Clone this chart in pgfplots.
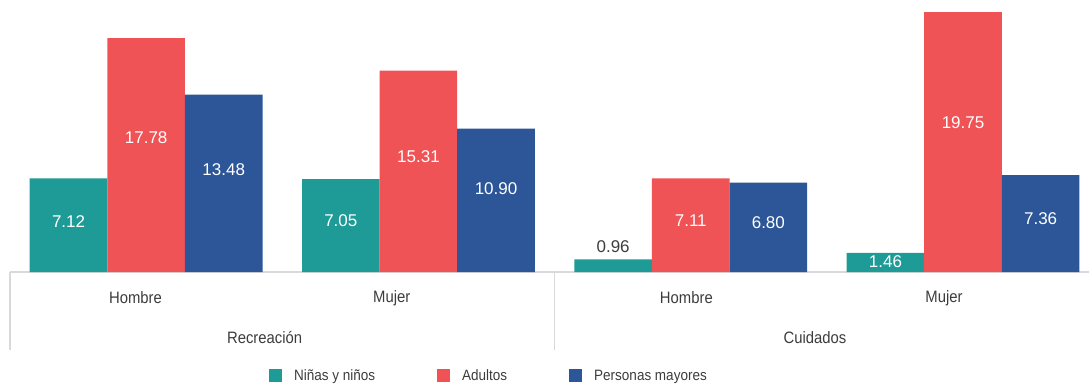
\documentclass[border=0pt]{standalone}
\usepackage{fontspec}
\setmainfont{Liberation Sans}[FakeStretch=0.9]
\newfontfamily\valfamily{Liberation Sans}
\usepackage{pgfplots}
\usepackage{pgfplotstable}
\pgfplotsset{compat=1.18}
\definecolor{cteal}{RGB}{31,155,151}
\definecolor{cred}{RGB}{240,83,85}
\definecolor{cblue}{RGB}{44,86,151}
\definecolor{cgrid}{RGB}{217,217,217}
\definecolor{ctext}{RGB}{60,60,60}

\pgfplotstableread{
x ninos adultos mayores
0 7.12 17.78 13.48
1 7.05 15.31 10.90
2 0.96 7.11 6.80
3 1.46 19.75 7.36
}\datatable

\pgfplotstableread{
lx ly lab
-0.285 3.80 7.12
0 10.18 17.78
0.285 7.75 13.48
0.715 3.88 7.05
1 8.74 15.31
1.285 6.31 10.90
2 3.88 7.11
2.285 3.72 6.80
2.715 0.76 1.46
3 11.32 19.75
3.285 4.03 7.36
}\labwhite

\pgfplotstableread{
lx ly lab
1.715 1.90 0.96
}\labdark

\newcommand{\tfont}{\fontsize{16.5bp}{19bp}\selectfont}
\newcommand{\lfont}{\fontsize{15bp}{18bp}\selectfont}
\newcommand{\vfont}{\valfamily\fontsize{17bp}{20bp}\selectfont}

\begin{document}
\begin{tikzpicture}
\begin{axis}[
  at={(0,0)}, anchor=south west,
  scale only axis, width=1079bp, height=272bp,
  xmin=-0.5, xmax=3.4625, ymin=0, ymax=20.67,
  axis x line*=bottom, axis y line=none,
  x axis line style={cgrid, line width=2bp},
  ytick=\empty,
  xtick={-0.039,0.902,1.984,2.930},
  xticklabels={Hombre,Mujer,Hombre,Mujer},
  major tick length=0,
  xticklabel style={anchor=center, yshift=-26bp, font=\tfont, text=ctext},
  clip=false,
  legend columns=3,
  legend style={draw=none, fill=none, at={(0.443,-0.382)}, anchor=center,
    font=\lfont, text=ctext, nodes={inner xsep=0pt},
    /tikz/every even column/.append style={column sep=62bp}},
  legend image code/.code={\fill[#1] (0bp,-6.5bp) rectangle (13bp,6.5bp);
    \path[draw=none, fill=none] (0bp,0bp) rectangle (25bp,0.1bp);},
]
\addplot[ybar, bar width=0.285, bar shift=-0.285, fill=cteal, draw=none] table[x=x, y=ninos] {\datatable};
\addlegendentry{Niñas y niños}
\addplot[ybar, bar width=0.285, bar shift=0, fill=cred, draw=none] table[x=x, y=adultos] {\datatable};
\addlegendentry{Adultos}
\addplot[ybar, bar width=0.285, bar shift=0.285, fill=cblue, draw=none] table[x=x, y=mayores] {\datatable};
\addlegendentry{Personas mayores}

\addplot[draw=none, mark=none, forget plot, nodes near coords, point meta=explicit symbolic,
  nodes near coords style={anchor=center, text=white, font=\vfont}]
  table[x=lx, y=ly, meta=lab] {\labwhite};
\addplot[draw=none, mark=none, forget plot, nodes near coords, point meta=explicit symbolic,
  nodes near coords style={anchor=center, text=ctext, font=\vfont}]
  table[x=lx, y=ly, meta=lab] {\labdark};

\draw[cgrid, line width=1.5bp] (axis cs:-0.5,0) -- ++(0bp,-78bp);
\draw[cgrid, line width=1.5bp] (axis cs:1.5,0) -- ++(0bp,-78bp);
\node[font=\tfont, text=ctext, anchor=center] at (axis cs:0.435,0) [yshift=-66bp] {Recreación};
\node[font=\tfont, text=ctext, anchor=center] at (axis cs:2.456,0) [yshift=-66bp] {Cuidados};
\end{axis}
\pgfresetboundingbox
\path[use as bounding box] (-10bp,-115bp) rectangle (1079bp,272bp);
\end{tikzpicture}
\end{document}
